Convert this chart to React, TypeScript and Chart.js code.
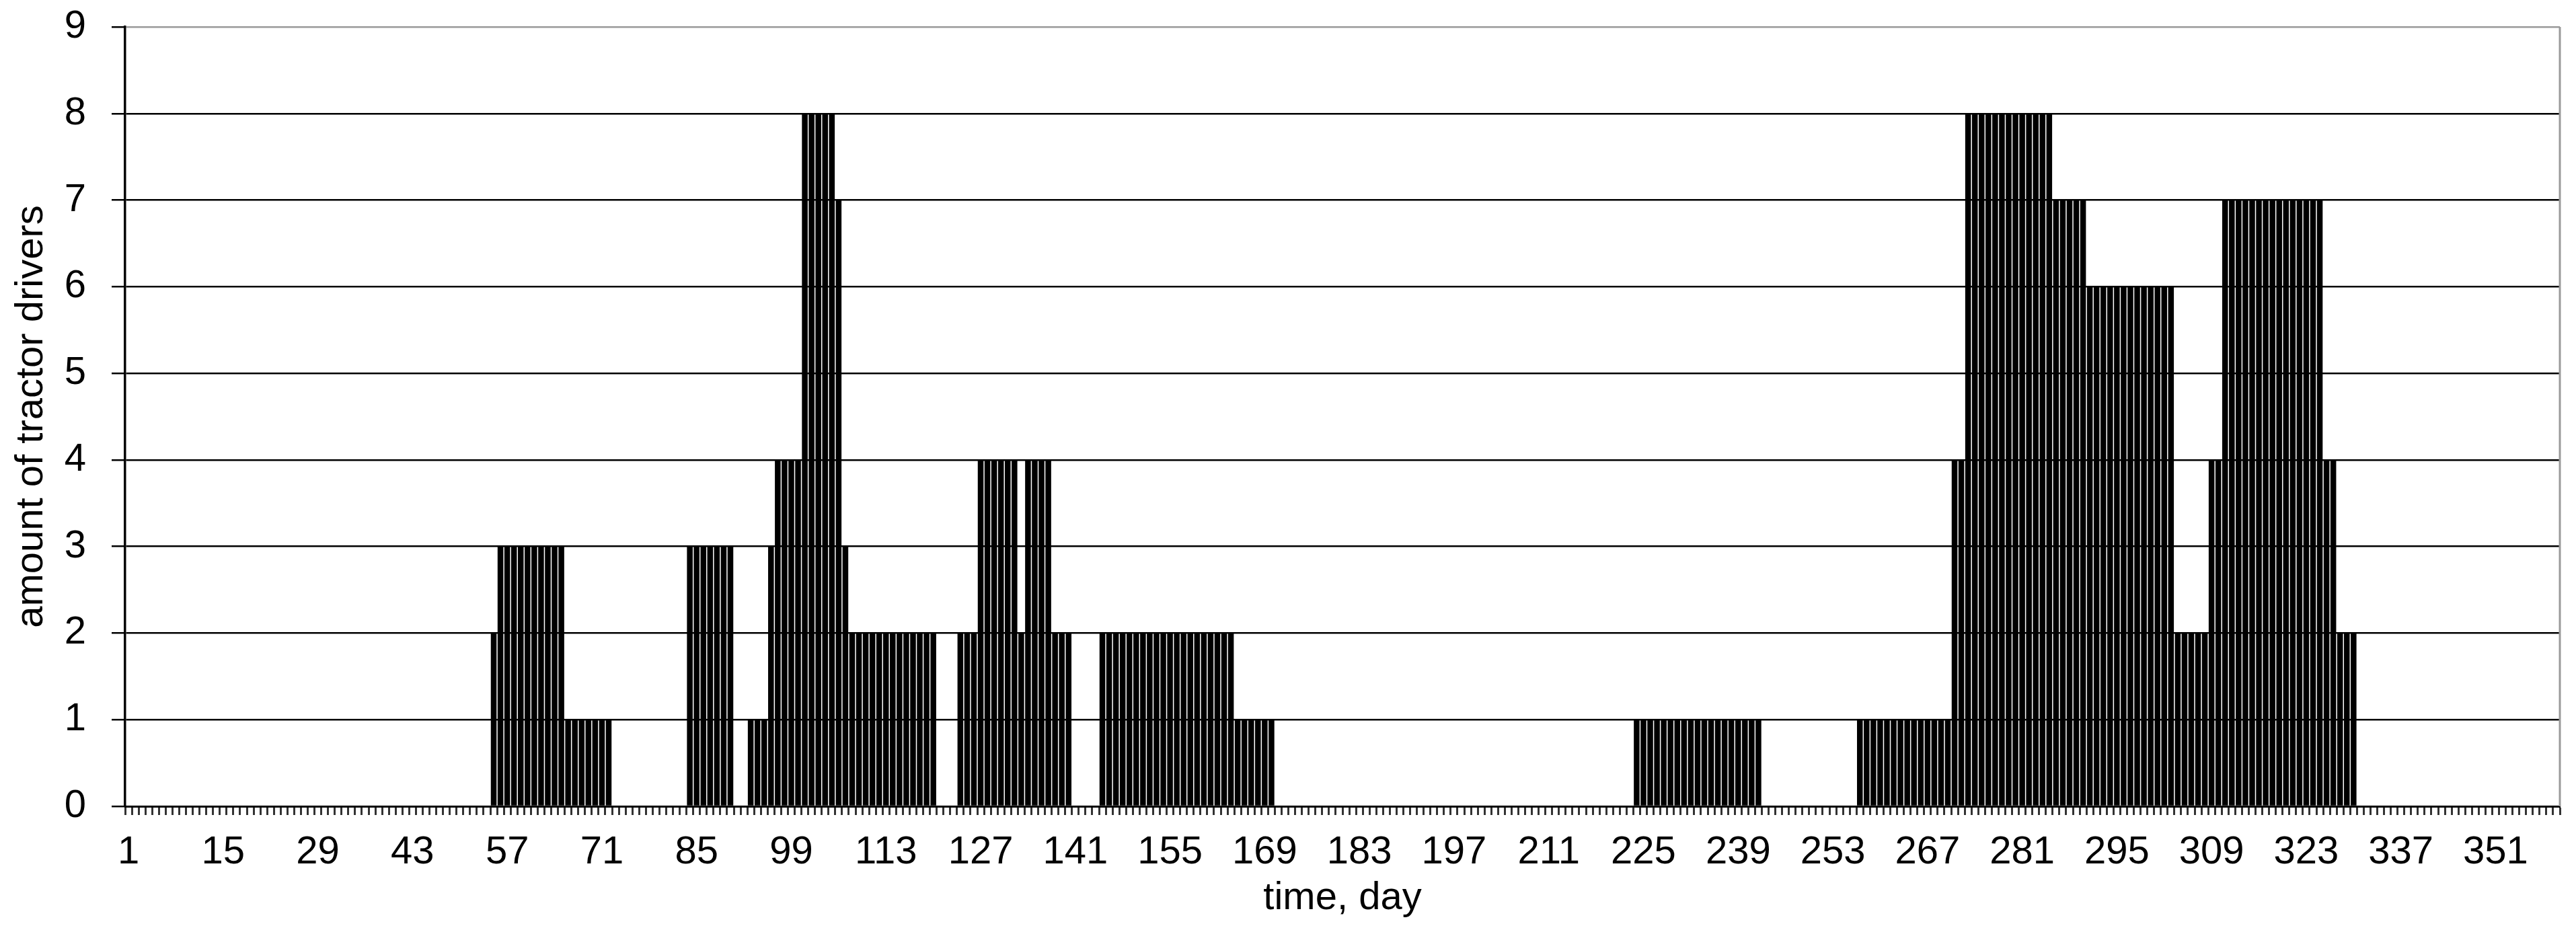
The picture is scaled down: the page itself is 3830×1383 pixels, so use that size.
import React, { useEffect, useRef } from "react";
import { Chart, registerables } from "chart.js";

Chart.register(...registerables);

// Days 1..360 (category axis)
const days: number[] = Array.from({ length: 360 }, (_, i) => i + 1);

// Amount of tractor drivers per day
const drivers: number[] = [
  0, 0, 0, 0, 0, 0, 0, 0, 0, 0, 0, 0, 0, 0, 0, 0, 0, 0, 0, 0, // 1-20
  0, 0, 0, 0, 0, 0, 0, 0, 0, 0, 0, 0, 0, 0, 0, 0, 0, 0, 0, 0, // 21-40
  0, 0, 0, 0, 0, 0, 0, 0, 0, 0, 0, 0, 0, 0, 2, 3, 3, 3, 3, 3, // 41-60
  3, 3, 3, 3, 3, 1, 1, 1, 1, 1, 1, 1, 0, 0, 0, 0, 0, 0, 0, 0, // 61-80
  0, 0, 0, 3, 3, 3, 3, 3, 3, 3, 0, 0, 1, 1, 1, 3, 4, 4, 4, 4, // 81-100
  8, 8, 8, 8, 8, 7, 3, 2, 2, 2, 2, 2, 2, 2, 2, 2, 2, 2, 2, 2, // 101-120
  0, 0, 0, 2, 2, 2, 4, 4, 4, 4, 4, 4, 2, 4, 4, 4, 4, 2, 2, 2, // 121-140
  0, 0, 0, 0, 2, 2, 2, 2, 2, 2, 2, 2, 2, 2, 2, 2, 2, 2, 2, 2, // 141-160
  2, 2, 2, 2, 1, 1, 1, 1, 1, 1, 0, 0, 0, 0, 0, 0, 0, 0, 0, 0, // 161-180
  0, 0, 0, 0, 0, 0, 0, 0, 0, 0, 0, 0, 0, 0, 0, 0, 0, 0, 0, 0, // 181-200
  0, 0, 0, 0, 0, 0, 0, 0, 0, 0, 0, 0, 0, 0, 0, 0, 0, 0, 0, 0, // 201-220
  0, 0, 0, 1, 1, 1, 1, 1, 1, 1, 1, 1, 1, 1, 1, 1, 1, 1, 1, 1, // 221-240
  1, 1, 0, 0, 0, 0, 0, 0, 0, 0, 0, 0, 0, 0, 0, 0, 1, 1, 1, 1, // 241-260
  1, 1, 1, 1, 1, 1, 1, 1, 1, 1, 4, 4, 8, 8, 8, 8, 8, 8, 8, 8, // 261-280
  8, 8, 8, 8, 8, 7, 7, 7, 7, 7, 6, 6, 6, 6, 6, 6, 6, 6, 6, 6, // 281-300
  6, 6, 6, 2, 2, 2, 2, 2, 4, 4, 7, 7, 7, 7, 7, 7, 7, 7, 7, 7, // 301-320
  7, 7, 7, 7, 7, 4, 4, 2, 2, 2, 0, 0, 0, 0, 0, 0, 0, 0, 0, 0, // 321-340
  0, 0, 0, 0, 0, 0, 0, 0, 0, 0, 0, 0, 0, 0, 0, 0, 0, 0, 0, 0, // 341-360
];

const labelStep = 14;
const yTitle = "amount of tractor drivers";
const xTitle = "time, day";

const FONT = '"Liberation Sans", Arial, sans-serif';

const rightBorder = {
  id: "rightBorder",
  afterDraw(chart: any) {
    const { ctx, chartArea } = chart;
    ctx.save();
    ctx.strokeStyle = "#9a9a9a";
    ctx.lineWidth = 3;
    ctx.beginPath();
    ctx.moveTo(chartArea.right, chartArea.top);
    ctx.lineTo(chartArea.right, chartArea.bottom);
    ctx.stroke();
    ctx.restore();
  },
};

export default function App() {
  const ref = useRef<HTMLCanvasElement | null>(null);

  useEffect(() => {
    if (!ref.current) return;
    const chart = new Chart(ref.current, {
      type: "bar",
      data: {
        labels: days.map(String),
        datasets: [
          {
            data: drivers,
            backgroundColor: "#000000",
            borderWidth: 0,
            barPercentage: 0.85,
            categoryPercentage: 1.0,
          },
        ],
      },
      plugins: [rightBorder],
      options: {
        responsive: false,
        animation: false,
        layout: { padding: { left: 0, right: 8, top: 0, bottom: 0 } },
        plugins: {
          legend: { display: false },
          tooltip: { enabled: false },
        },
        scales: {
          x: {
            afterFit: (s: any) => {
              s.height = 176;
            },
            grid: {
              display: true,
              drawOnChartArea: false,
              drawTicks: true,
              tickLength: 13,
              tickWidth: 3,
              tickColor: "#333",
              offset: true,
            },
            border: { display: true, color: "#000", width: 3 },
            ticks: {
              autoSkip: false,
              maxRotation: 0,
              minRotation: 0,
              padding: 21,
              color: "#000",
              font: { family: FONT, size: 58 },
              callback: (_v: any, index: number) =>
                index % labelStep === 0 ? String(days[index]) : "",
            },
            title: {
              display: true,
              text: xTitle,
              color: "#000",
              font: { family: FONT, size: 58 },
              padding: { top: 4, bottom: 4 },
            },
          },
          y: {
            min: 0,
            max: 9,
            afterFit: (s: any) => {
              s.width = 178;
              s.paddingTop = 32;
              s.paddingBottom = 0;
            },
            grid: {
              color: (c: any) => (c.tick && c.tick.value === 9 ? "#9a9a9a" : "#000"),
              lineWidth: 2.5,
              drawTicks: true,
              tickLength: 20,
              tickColor: "#000",
              tickWidth: 2.5,
            },
            border: { display: true, color: "#000", width: 3.5 },
            ticks: {
              stepSize: 1,
              padding: 38,
              color: "#000",
              font: { family: FONT, size: 58 },
            },
            title: {
              display: true,
              text: yTitle,
              color: "#000",
              font: { family: FONT, size: 58 },
              padding: { top: 4, bottom: 4 },
            },
          },
        },
      },
    });
    return () => chart.destroy();
  }, []);

  return (
    <div style={{ width: 3814, height: 1367 }}>
      <canvas ref={ref} width={3814} height={1367} style={{ display: "block" }} />
    </div>
  );
}
